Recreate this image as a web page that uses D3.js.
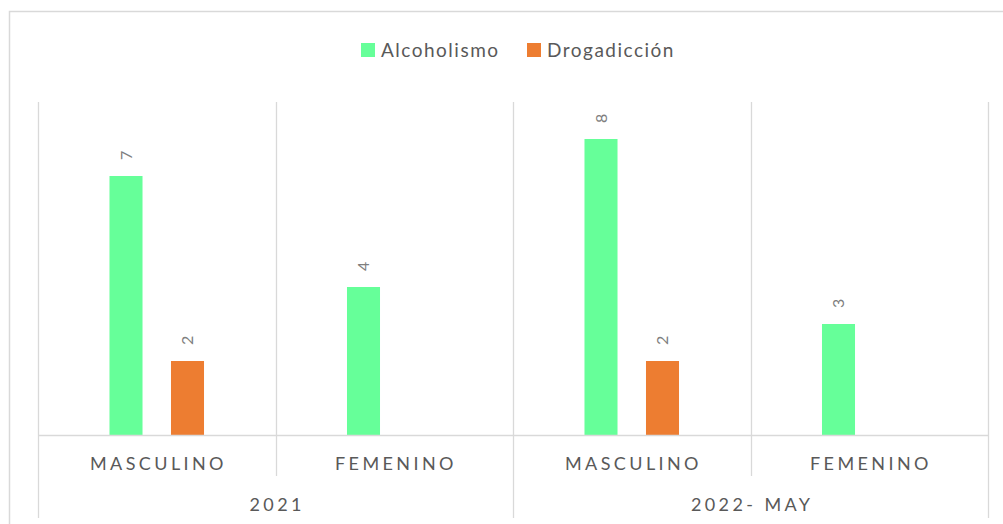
<!DOCTYPE html>
<html><head><meta charset="utf-8">
<script src="https://cdnjs.cloudflare.com/ajax/libs/d3/7.8.5/d3.min.js"></script>
<style>
html,body{margin:0;padding:0;background:#fff;}
svg{display:block;}
text{font-family:Lato, "Open Sans", sans-serif;fill:#595959;}
</style></head>
<body><div id="chart"></div>
<script>
const categories = ["MASCULINO","FEMENINO","MASCULINO","FEMENINO"];
const groups = ["2021","2022- MAY"];
const seriesNames = ["Alcoholismo","Drogadicción"];
const alcoholismo = [7,4,8,3];
const drogadiccion = [2,null,2,null];
const colors = ["#66FF99","#ED7D31"];

const W = 1003, H = 524;
const svg = d3.select("#chart").append("svg").attr("width",W).attr("height",H);

// outer border
svg.append("rect").attr("x",9.5).attr("y",11.5).attr("width",W).attr("height",H)
  .attr("fill","none").attr("stroke","#D9D9D9").attr("stroke-width",1.5);

const plot = {left:38, right:988, top:102, bottom:435};
const x = d3.scaleBand().domain(d3.range(categories.length)).range([plot.left,plot.right]).padding(0);
const xs = d3.scaleBand().domain(seriesNames).range([0,x.bandwidth()]).paddingInner(0.463).paddingOuter(1.1625);
const y = d3.scaleLinear().domain([0,9]).range([plot.bottom,plot.top]);

const gridColor = "#D9D9D9";
const bounds = d3.range(categories.length+1).map(i => i < categories.length ? x(i) : x(categories.length-1)+x.bandwidth());
svg.append("g").selectAll("line").data(bounds).join("line")
  .attr("x1",d=>Math.round(d)+0.5).attr("x2",d=>Math.round(d)+0.5)
  .attr("y1",plot.top).attr("y2",plot.bottom)
  .attr("stroke",gridColor).attr("stroke-width",1.3);

const series = [alcoholismo, drogadiccion];
series.forEach((vals,si)=>{
  const g = svg.append("g");
  const data = vals.map((v,i)=>({v,i})).filter(d=>d.v!==null);
  g.selectAll("rect").data(data).join("rect")
    .attr("x",d=>x(d.i)+xs(seriesNames[si]))
    .attr("width",xs.bandwidth())
    .attr("y",d=>y(d.v))
    .attr("height",d=>y(0)-y(d.v))
    .attr("fill",colors[si]);
  g.selectAll("text").data(data).join("text")
    .attr("transform",d=>`translate(${x(d.i)+xs(seriesNames[si])+xs.bandwidth()/2},${y(d.v)-16}) rotate(-90)`)
    .attr("dy","0.35em")
    .attr("text-anchor","start")
    .style("font-size","16px")
    .style("fill","#7F7F7F")
    .text(d=>d.v);
});

svg.append("line").attr("x1",plot.left).attr("x2",plot.right)
  .attr("y1",plot.bottom+0.5).attr("y2",plot.bottom+0.5)
  .attr("stroke",gridColor).attr("stroke-width",1.3);

const groupSize = categories.length/groups.length;
bounds.forEach((b,i)=>{
  const isGroup = i % groupSize === 0;
  svg.append("line").attr("x1",Math.round(b)+0.5).attr("x2",Math.round(b)+0.5)
    .attr("y1",plot.bottom).attr("y2",isGroup?518:476)
    .attr("stroke",gridColor).attr("stroke-width",1.3);
});

svg.append("g").selectAll("text").data(categories).join("text")
  .attr("x",(d,i)=>x(i)+x.bandwidth()/2+1.7)
  .attr("y",470)
  .attr("text-anchor","middle")
  .style("font-size","18px")
  .style("letter-spacing","3.4px")
  .text(d=>d);

svg.append("g").selectAll("text").data(groups).join("text")
  .attr("x",(d,i)=>x(i*groupSize)+x.bandwidth()*groupSize/2+1.7)
  .attr("y",511)
  .attr("text-anchor","middle")
  .style("font-size","18px")
  .style("letter-spacing","3.4px")
  .text(d=>d);

const legendX = [361, 527];
const lg = svg.append("g");
seriesNames.forEach((s,i)=>{
  lg.append("rect").attr("x",legendX[i]).attr("y",43).attr("width",14).attr("height",14).attr("fill",colors[i]);
  lg.append("text").attr("x",legendX[i]+20).attr("y",57).style("font-size","19px").style("letter-spacing","1.5px").text(s);
});
</script></body></html>
